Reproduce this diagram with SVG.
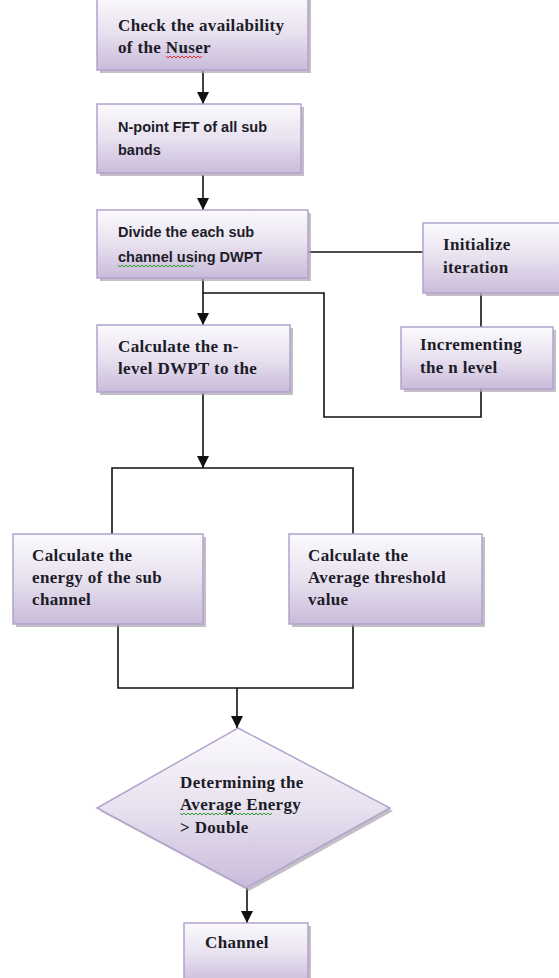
<svg xmlns="http://www.w3.org/2000/svg" width="559" height="978" viewBox="0 0 559 978">
<style>
.box{fill:url(#g);stroke:#b3a3cc;stroke-width:1.5}
.sh{fill:#a9a3b0;opacity:0.7}
.t{font-family:"Liberation Serif","Times New Roman",serif;font-weight:bold;font-size:17px;letter-spacing:0.35px;fill:#1c1c28}
.s{font-family:"Liberation Sans",Arial,sans-serif;font-weight:bold;font-size:14.5px;fill:#1c1c28}
.c{stroke:#111;stroke-width:1.6;fill:none}
.a{stroke:#111;stroke-width:1.6;fill:none;marker-end:url(#ah)}
.wr{stroke:#e03030;stroke-width:1;fill:none}
.wg{stroke:#2a9a2a;stroke-width:1;fill:none}
</style>
<defs>
<linearGradient id="g" x1="0" y1="0" x2="0" y2="1">
<stop offset="0" stop-color="#fbfafd"/>
<stop offset="0.5" stop-color="#e8e1ef"/>
<stop offset="1" stop-color="#c9bbda"/>
</linearGradient>
<marker id="ah" markerUnits="userSpaceOnUse" markerWidth="12" markerHeight="12" refX="12" refY="6" orient="auto">
<path d="M0,0 L12,6 L0,12 z" fill="#111"/>
</marker>
</defs>
<g id="connectors">
<path class="a" d="M203,71 V104"/>
<path class="a" d="M203,175 V210"/>
<path class="c" d="M308,252 H423"/>
<path class="c" d="M481,293 V327"/>
<path class="c" d="M481,389 V417 H324 V293 H203"/>
<path class="a" d="M203,279 V325"/>
<path class="a" d="M203,393 V468"/>
<path class="c" d="M112,534 V468 H353 V534"/>
<path class="c" d="M118,624 V688 H353 V624"/>
<path class="a" d="M237,688 V728"/>
<path class="a" d="M247,888 V923"/>
</g>
<g id="n1">
<rect class="sh" x="100" y="-2" width="211" height="75"/>
<rect class="box" x="97" y="-5" width="211" height="75"/>
<text class="t" x="118" y="31">Check the availability</text>
<text class="t" x="118" y="53">of the Nuser</text>
<path class="wr" d="M166,56 l2,2 l2,-2 l2,2 l2,-2 l2,2 l2,-2 l2,2 l2,-2 l2,2 l2,-2 l2,2 l2,-2 l2,2 l2,-2 l2,2 l2,-2 l2,2 l2,-2"/>
</g>
<g id="n2">
<rect class="sh" x="100" y="107" width="204" height="69"/>
<rect class="box" x="97" y="104" width="204" height="69"/>
<text class="s" x="118" y="132">N-point FFT of all sub</text>
<text class="s" x="118" y="155">bands</text>
</g>
<g id="n3">
<rect class="sh" x="100" y="213" width="211" height="68"/>
<rect class="box" x="97" y="210" width="211" height="68"/>
<text class="s" x="118" y="237">Divide the each sub</text>
<text class="s" x="118" y="262">channel using DWPT</text>
<path class="wg" d="M118,265 l2,2 l2,-2 l2,2 l2,-2 l2,2 l2,-2 l2,2 l2,-2 l2,2 l2,-2 l2,2 l2,-2 l2,2 l2,-2 l2,2 l2,-2 l2,2 l2,-2 l2,2 l2,-2 l2,2 l2,-2 l2,2 l2,-2 l2,2 l2,-2 l2,2 l2,-2 l2,2 l2,-2 l2,2 l2,-2 l2,2 l2,-2 l2,2 l2,-2 l2,2 l2,-2"/>
</g>
<g id="n4">
<rect class="sh" x="426" y="226" width="142" height="70"/>
<rect class="box" x="423" y="223" width="142" height="70"/>
<text class="t" x="443" y="250">Initialize</text>
<text class="t" x="443" y="273">iteration</text>
</g>
<g id="n5">
<rect class="sh" x="404" y="330" width="152" height="62"/>
<rect class="box" x="401" y="327" width="152" height="62"/>
<text class="t" x="420" y="350">Incrementing</text>
<text class="t" x="420" y="373">the n level</text>
</g>
<g id="n6">
<rect class="sh" x="100" y="328" width="193" height="67"/>
<rect class="box" x="97" y="325" width="193" height="67"/>
<text class="t" x="118" y="352">Calculate the n-</text>
<text class="t" x="118" y="374">level DWPT to the</text>
</g>
<g id="n7">
<rect class="sh" x="16" y="537" width="190" height="90"/>
<rect class="box" x="13" y="534" width="190" height="90"/>
<text class="t" x="32" y="561">Calculate the</text>
<text class="t" x="32" y="583">energy of the sub</text>
<text class="t" x="32" y="605">channel</text>
</g>
<g id="n8">
<rect class="sh" x="292" y="537" width="193" height="90"/>
<rect class="box" x="289" y="534" width="193" height="90"/>
<text class="t" x="308" y="561">Calculate the</text>
<text class="t" x="308" y="583">Average threshold</text>
<text class="t" x="308" y="605">value</text>
</g>
<g id="n9">
<polygon class="sh" points="240,731 393,811 249,891 100,811"/>
<polygon class="box" points="238,728 390,808 246,888 97,808"/>
<text class="t" x="180" y="788">Determining the</text>
<text class="t" x="180" y="810">Average Energy</text>
<text class="t" x="180" y="833">&gt; Double</text>
<path class="wg" d="M180,813 l2,2 l2,-2 l2,2 l2,-2 l2,2 l2,-2 l2,2 l2,-2 l2,2 l2,-2 l2,2 l2,-2 l2,2 l2,-2 l2,2 l2,-2 l2,2 l2,-2 l2,2 l2,-2 l2,2 l2,-2 l2,2 l2,-2 l2,2 l2,-2 l2,2 l2,-2 l2,2 l2,-2 l2,2 l2,-2 l2,2 l2,-2 l2,2 l2,-2 l2,2 l2,-2 l2,2 l2,-2 l2,2 l2,-2 l2,2 l2,-2 l2,2 l2,-2"/>
</g>
<g id="n10">
<rect class="sh" x="187" y="926" width="124" height="62"/>
<rect class="box" x="184" y="923" width="124" height="62"/>
<text class="t" x="205" y="948">Channel</text>
</g>
</svg>
